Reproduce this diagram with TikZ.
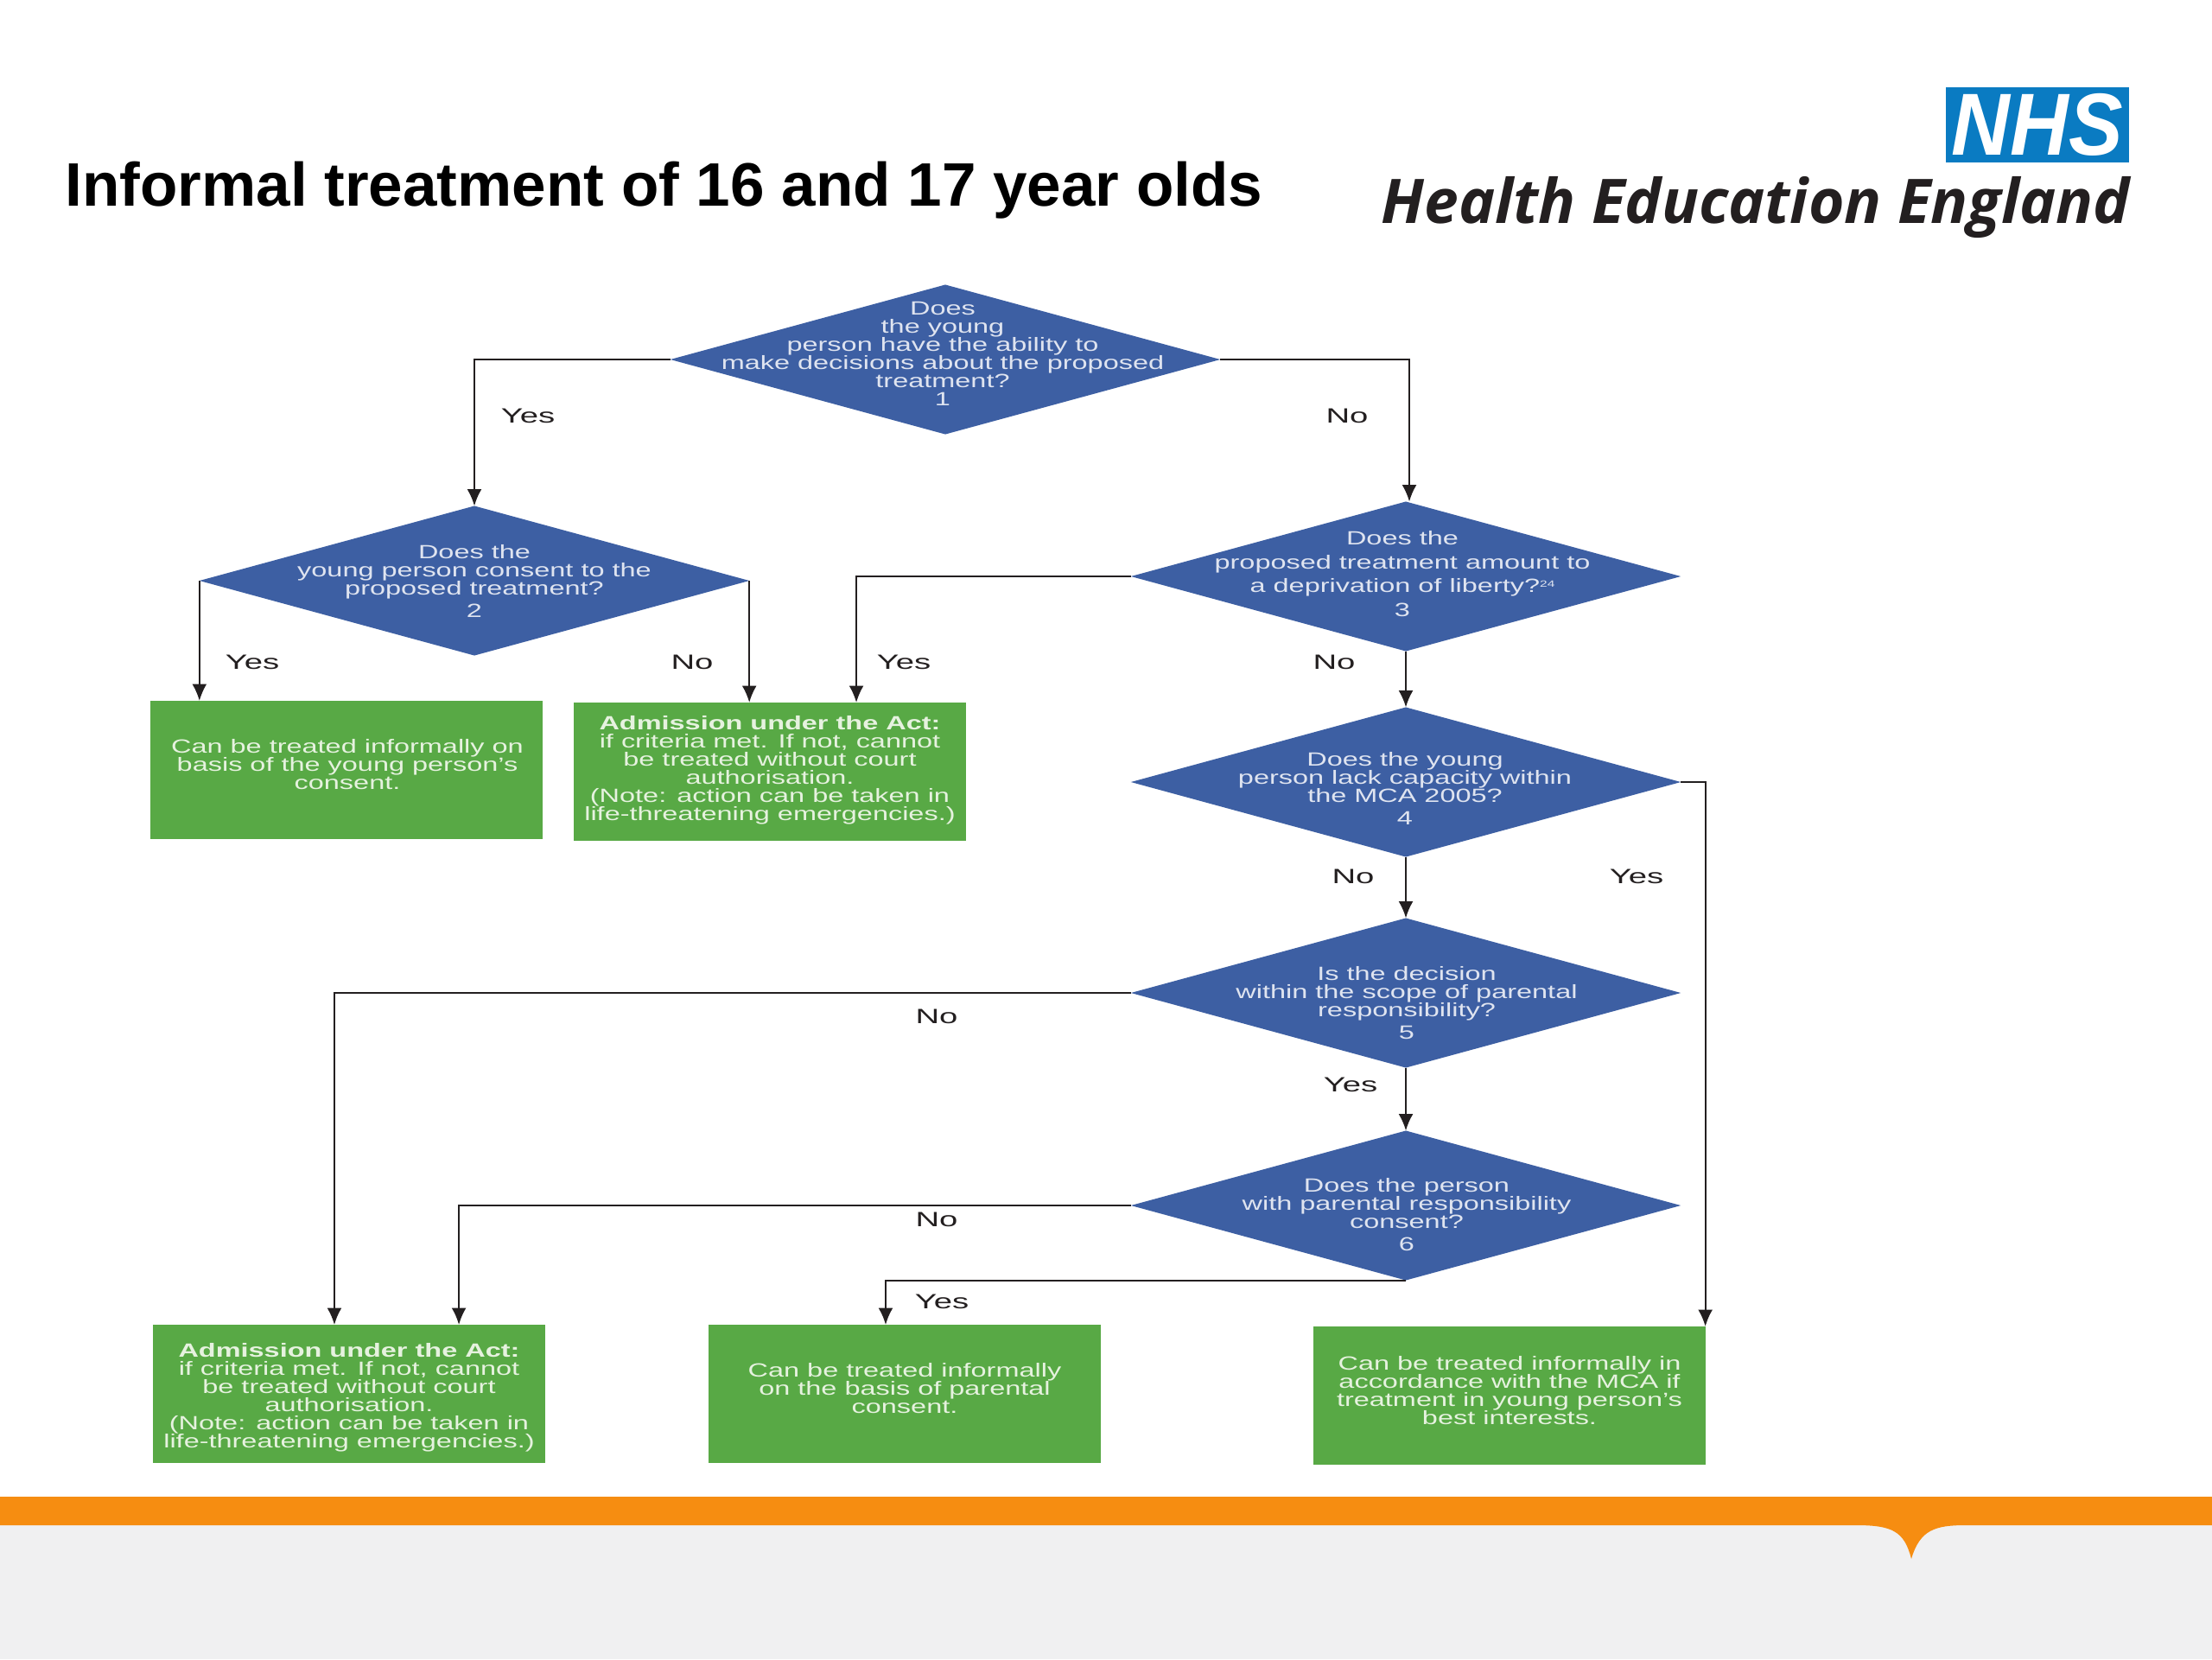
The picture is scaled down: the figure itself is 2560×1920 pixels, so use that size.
\documentclass[tikz,border=0pt]{standalone}
\usepackage{fontspec}
\usepackage{array}
\setmainfont{Liberation Sans}
\newfontfamily\logofont{Open Sans}
\usetikzlibrary{arrows.meta,shapes.geometric}
\definecolor{diablue}{HTML}{3D5FA3}
\definecolor{boxgreen}{HTML}{58A945}
\definecolor{bandorange}{HTML}{F68D11}
\definecolor{bandgrey}{HTML}{F0F0F1}
\definecolor{nhsblue}{HTML}{0A7BC2}
\definecolor{inkdark}{HTML}{231F20}
\definecolor{boxtext}{HTML}{E6F2DF}
\definecolor{diatext}{HTML}{DFE4F0}
\newcolumntype{C}{@{}>{\setbox0=\hbox\bgroup}c<{\egroup\smash{\box0}}@{}}
\newcommand{\wtxt}[1]{\scalebox{1.465}[1]{\fontsize{6.3}{5.97}\selectfont\begin{tabular}{C}#1\end{tabular}}}
\tikzset{
  dia/.style={diamond,fill=diablue,draw=none,inner sep=0pt,outer sep=0pt,minimum width=6.36cm,minimum height=1.73cm},
  diatxt/.style={text=diatext,inner sep=0pt},
  resbox/.style={fill=boxgreen,draw=none,inner sep=0pt,outer sep=0pt,minimum width=4.53cm,minimum height=1.6cm},
  restxt/.style={text=boxtext,inner sep=0pt},
  conn/.style={draw=inkdark,line width=0.6pt,-{Latex[length=5.5pt,width=4.8pt]}},
  ans/.style={text=inkdark,inner sep=0pt,font=\fontsize{6.8}{7}\selectfont},
}
\newcommand{\anstxt}[1]{\scalebox{1.6}[1]{#1}}
\begin{document}
\begin{tikzpicture}[x=0.01cm,y=-0.01cm]
\useasboundingbox (0,0) rectangle (2560,1920);
\fill[white] (0,0) rectangle (2560,1920);
% footer band
\fill[bandgrey] (0,1760) rectangle (2560,1920);
\fill[bandorange] (0,1732) -- (2560,1732) -- (2560,1765) -- (2275,1765)
  .. controls (2240,1765) and (2222,1770) .. (2212,1804)
  .. controls (2204,1772) and (2190,1765) .. (2148,1765) -- (0,1765) -- cycle;
% title
\node[anchor=west,inner sep=0pt,font=\bfseries\fontsize{20.2}{24}\selectfont,text=black] (title) at (75,220) {Informal treatment of 16 and 17 year olds};
% logo
\node[fill=nhsblue,minimum width=2.12cm,minimum height=0.87cm,inner sep=0pt,outer sep=0pt,anchor=north east] (nhs) at (2464,101) {};
\node[inner sep=0pt,text=white,font=\bfseries\itshape\fontsize{29}{30}\selectfont] (nhstxt) at (nhs) {\scalebox{0.92}[1]{NHS}};
\node[anchor=base east,inner sep=0pt,text=inkdark,font=\logofont\bfseries\itshape\fontsize{20.25}{24}\selectfont] (hee) at (2466,258) {Health Education England};
% diamonds
\node[dia] (d1) at (1094,416) {};
\node[dia] (d2) at (549,672) {};
\node[dia] (d3) at (1627,667) {};
\node[dia] (d4) at (1627,905) {};
\node[dia] (d5) at (1627,1149) {};
\node[dia] (d6) at (1627,1395) {};
\node[diatxt] (d1t) at (1091,413) {\wtxt{Does\\the young\\person have the ability to\\make decisions about the proposed\\treatment?\\1}};
\node[diatxt] (d2t) at (549,676) {\wtxt{Does the\\young person consent to the\\proposed treatment?\\[1.4pt]2}};
\node[diatxt] (d3t) at (1623,668) {\wtxt{Does the\\[1.85pt]proposed treatment amount to\\[1.85pt]a deprivation of liberty?\raisebox{1.8pt}{\smash{\fontsize{3}{3}\selectfont 24}}\\[1.85pt]3}};
\node[diatxt] (d4t) at (1626,916) {\wtxt{Does the young\\person lack capacity within\\the MCA 2005?\\[1.4pt]4}};
\node[diatxt] (d5t) at (1628,1164) {\wtxt{Is the decision\\within the scope of parental\\responsibility?\\[1.4pt]5}};
\node[diatxt] (d6t) at (1628,1409) {\wtxt{Does the person\\with parental responsibility\\consent?\\[1.4pt]6}};
% boxes
\node[resbox] (b1) at (401,891) {};
\node[resbox] (b2) at (891,893) {};
\node[resbox] (b3) at (404,1613) {};
\node[resbox] (b4) at (1047,1613) {};
\node[resbox] (b5) at (1747,1615) {};
\node[restxt] (b1t) at (402,888) {\wtxt{Can be treated informally on\\basis of the young person's\\consent.}};
\node[restxt] (b2t) at (891,893) {\wtxt{\textbf{Admission under the Act:}\\if criteria met. If not, cannot\\be treated without court\\authorisation.\\(Note: action can be taken in\\life-threatening emergencies.)}};
\node[restxt] (b3t) at (404,1619) {\wtxt{\textbf{Admission under the Act:}\\if criteria met. If not, cannot\\be treated without court\\authorisation.\\(Note: action can be taken in\\life-threatening emergencies.)}};
\node[restxt] (b4t) at (1047,1610) {\wtxt{Can be treated informally\\on the basis of parental\\consent.}};
\node[restxt] (b5t) at (1747,1613) {\wtxt{Can be treated informally in\\accordance with the MCA if\\treatment in young person's\\best interests.}};
% connectors
\coordinate (d3in) at ([xshift=0.04cm]d3.north);
\coordinate (b4in) at ([xshift=-0.22cm]b4.north);
\coordinate (b2a) at ([xshift=-0.24cm]b2.north);
\coordinate (b2b) at ([xshift=1.0cm]b2.north);
\coordinate (b1a) at ([xshift=-1.71cm]b1.north);
\coordinate (b3a) at ([xshift=-0.17cm]b3.north);
\coordinate (b3b) at ([xshift=1.27cm]b3.north);
\draw[conn] (d1.west) -| (d2.north);
\draw[conn] (d1.east) -| (d3in);
\draw[conn] (d2.west) -- (d2.west |- b1a);
\draw[conn] (d2.east) -- (d2.east |- b2a);
\draw[conn] (d3.west) -| (b2b);
\draw[conn] (d3.south) -- (d4.north);
\draw[conn] (d4.south) -- (d5.north);
\draw[conn] (d5.south) -- (d6.north);
\draw[conn] (d4.east) -| (b5.north east);
\draw[conn] (d5.west) -| (b3a);
\draw[conn] (d6.west) -| (b3b);
\draw[conn] (d6.south) -| (b4in);
% answers
\node[ans] (a1) at (611,481) {\anstxt{Yes}};
\node[ans] (a2) at (1559,481) {\anstxt{No}};
\node[ans] (a3) at (292,766) {\anstxt{Yes}};
\node[ans] (a4) at (801,766) {\anstxt{No}};
\node[ans] (a5) at (1046,766) {\anstxt{Yes}};
\node[ans] (a6) at (1544,766) {\anstxt{No}};
\node[ans] (a7) at (1566,1014) {\anstxt{No}};
\node[ans] (a8) at (1894,1014) {\anstxt{Yes}};
\node[ans] (a9) at (1084,1176) {\anstxt{No}};
\node[ans] (a10) at (1563,1255) {\anstxt{Yes}};
\node[ans] (a11) at (1084,1411) {\anstxt{No}};
\node[ans] (a12) at (1090,1506) {\anstxt{Yes}};
\end{tikzpicture}
\end{document}
